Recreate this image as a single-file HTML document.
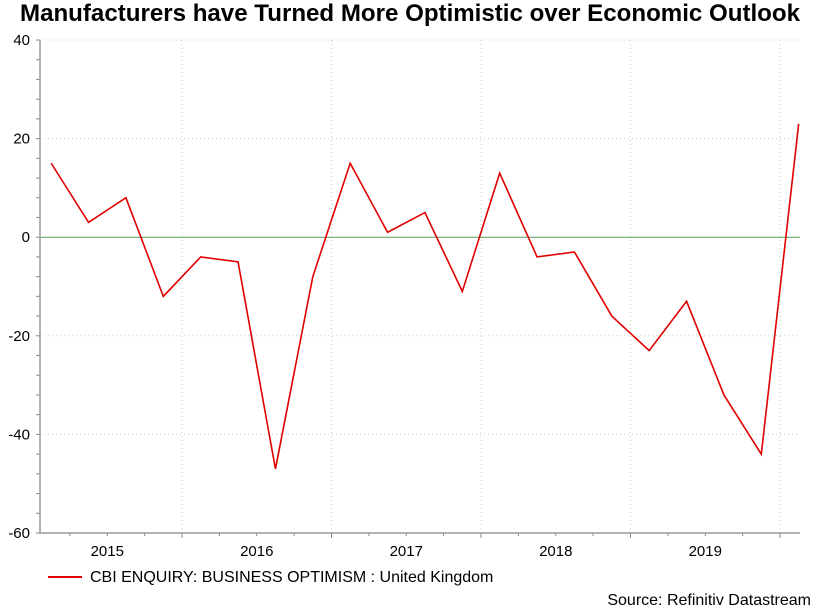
<!DOCTYPE html>
<html><head><meta charset="utf-8"><style>
body{margin:0;background:#fff;}
svg text{font-family:"Liberation Sans",Arial,sans-serif;}
</style></head><body>
<svg id="c" width="821" height="608" xmlns="http://www.w3.org/2000/svg">
<text x="410" y="21" text-anchor="middle" font-size="24" font-weight="bold" textLength="780" lengthAdjust="spacingAndGlyphs">Manufacturers have Turned More Optimistic over Economic Outlook</text>
<g id="grid"></g><g id="axes"></g><g id="series"></g>
<line x1="48" y1="577" x2="82" y2="577" stroke="#e00000" stroke-width="2"/>
<text x="90" y="582" font-size="16">CBI ENQUIRY: BUSINESS OPTIMISM : United Kingdom</text>
<text x="811" y="605" text-anchor="end" font-size="16">Source: Refinitiv Datastream</text>
</svg>
<script>
const years=["2015","2016","2017","2018","2019"];
const yTicks=[40,20,0,-20,-40,-60];
const values=[15,3,8,-12,-4,-5,-47,-8,15,1,5,-11,13,-4,-3,-16,-23,-13,-32,-44,23];
const NS="http://www.w3.org/2000/svg";
const x0=32.5, yearW=149.5, qW=yearW/4;
const yMin=-60,yMax=40,yTop=40,yBot=533;
const X=q=>x0+qW*(q+0.5);
const Y=v=>yBot-(v-yMin)/(yMax-yMin)*(yBot-yTop);
function mk(p,t,a){const e=document.createElementNS(NS,t);for(const k in a)e.setAttribute(k,a[k]);document.getElementById(p).appendChild(e);return e;}
yTicks.forEach(v=>{
  if(v===0){const l=mk('grid','line',{x1:40,x2:800,y1:Y(v),y2:Y(v),stroke:'#5a9a5a','stroke-width':1});
    
    }
  else if(v!==yMin){const l=mk('grid','line',{x1:40,x2:800,y1:Y(v),y2:Y(v),stroke:'#b8d8b8','stroke-width':1,'stroke-dasharray':'1,3'});
    
    }
  const t=mk('axes','text',{x:30,y:Y(v)+5,'text-anchor':'end','font-size':15});t.textContent=v;
  
  
});
for(let v=yMin;v<=yMax;v+=4){mk('axes','line',{x1:36,x2:40,y1:Y(v),y2:Y(v),stroke:'#888'});}
for(let i=1;i<=years.length;i++){const gx=x0+yearW*i;
  const l=mk('grid','line',{x1:gx,x2:gx,y1:yTop,y2:yBot,stroke:'#b8d8b8','stroke-dasharray':'1,3'});
  
  }
for(let q=0;q<=years.length*4+1;q++){const tx=x0+qW*q;if(tx<40||tx>800)continue;
  mk('axes','line',{x1:tx,x2:tx,y1:yBot,y2:yBot+(q%4===0?5:3),stroke:'#888'});}
years.forEach((yr,i)=>{const t=mk('axes','text',{x:x0+yearW*(i+0.5),y:556,'text-anchor':'middle','font-size':15});t.textContent=yr;
  
  });
const ax=mk('axes','path',{d:`M40,${yTop}V${yBot}H800`,fill:'none',stroke:'#999','stroke-width':1.5});


const ln=mk('series','polyline',{points:values.map((v,i)=>X(i)+','+Y(v)).join(' '),fill:'none',stroke:'#e00000','stroke-width':1.6});


</script>
</body></html>
